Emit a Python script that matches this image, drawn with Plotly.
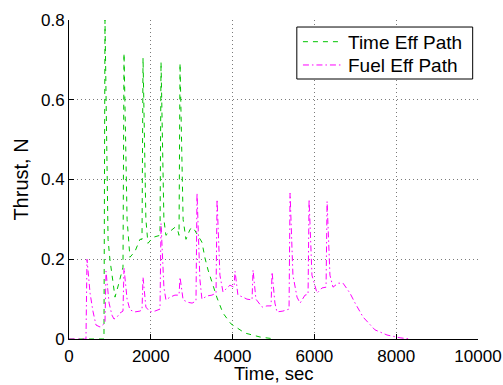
import plotly.graph_objects as go

# Time Eff Path (green dashed)
time_eff_t = [0, 855, 880, 955, 1000, 1125, 1220, 1320, 1345, 1420, 1490, 1615, 1735, 1785,
              1810, 1880, 1930, 2055, 2225, 2250, 2320, 2370, 2470, 2590, 2665, 2690, 2715,
              2790, 2860, 2960, 3030, 3155, 3250, 3325, 3400, 3520, 3620, 3765, 3960, 4300,
              4670, 5040]
time_eff_f = [0, 0, 0.80, 0.25, 0.20, 0.105, 0.14, 0.18, 0.717, 0.30, 0.205, 0.22, 0.25, 0.25,
              0.705, 0.30, 0.24, 0.255, 0.26, 0.695, 0.30, 0.26, 0.27, 0.28, 0.27, 0.26, 0.692,
              0.30, 0.25, 0.275, 0.28, 0.26, 0.243, 0.203, 0.173, 0.135, 0.103, 0.065, 0.038, 0.015,
              0.005, 0.0]

# Fuel Eff Path (magenta dash-dot)
fuel_eff_t = [0, 415, 440, 515, 585, 660, 760, 830, 880, 905, 980, 1050, 1100, 1175, 1245, 1320,
              1345, 1420, 1490, 1615, 1735, 1785, 1810, 1880, 1980, 2100, 2225, 2250, 2320, 2370,
              2470, 2590, 2690, 2715, 2790, 2910, 3010, 3105, 3130, 3200, 3250, 3375, 3495, 3595,
              3620, 3690, 3765, 3935, 4035, 4060, 4130, 4255, 4350, 4475, 4500, 4570, 4720, 4840,
              4940, 4965, 5035, 5085, 5230, 5380, 5405, 5475, 5575, 5650, 5770, 5845, 5870, 5940,
              6065, 6185, 6285, 6310, 6380, 6455, 6580, 6700, 6870, 6995, 7190, 7480, 7775, 8095,
              8340]
fuel_eff_f = [0, 0, 0.20, 0.115, 0.07, 0.035, 0.03, 0.035, 0.04, 0.17, 0.09, 0.06, 0.05, 0.055,
              0.065, 0.07, 0.178, 0.10, 0.073, 0.068, 0.07, 0.073, 0.155, 0.08, 0.068, 0.07, 0.075,
              0.29, 0.13, 0.098, 0.105, 0.11, 0.11, 0.155, 0.098, 0.092, 0.09, 0.095, 0.366, 0.15,
              0.10, 0.108, 0.11, 0.115, 0.35, 0.16, 0.118, 0.135, 0.13, 0.17, 0.11, 0.105, 0.10,
              0.098, 0.173, 0.10, 0.08, 0.083, 0.083, 0.168, 0.09, 0.068, 0.07, 0.075, 0.366, 0.16,
              0.105, 0.09, 0.11, 0.112, 0.35, 0.16, 0.115, 0.128, 0.13, 0.345, 0.16, 0.13, 0.14,
              0.14, 0.115, 0.09, 0.055, 0.023, 0.01, 0.003, 0.0]

series_names = ["Time Eff Path", "Fuel Eff Path"]
x_title = "Time, sec"
y_title = "Thrust, N"
x_ticks = [0, 2000, 4000, 6000, 8000, 10000]
y_ticks = [0, 0.2, 0.4, 0.6, 0.8]
y_tick_labels = ["0", "0.2", "0.4", "0.6", "0.8"]

FONT = "Liberation Sans, Arial, Helvetica, sans-serif"
GREEN = "#00c400"
MAGENTA = "#ff00ff"
GREEN_DASH = "5px,5px"
MAG_DASH = "6px,3px,1.5px,3px"

fig = go.Figure()
fig.add_trace(go.Scatter(x=time_eff_t, y=time_eff_f, mode="lines", name=series_names[0],
                         line=dict(color=GREEN, width=1, dash=GREEN_DASH), showlegend=False))
fig.add_trace(go.Scatter(x=fuel_eff_t, y=fuel_eff_f, mode="lines", name=series_names[1],
                         line=dict(color=MAGENTA, width=1, dash=MAG_DASH), showlegend=False))

axis_common = dict(showline=True, linecolor="black", linewidth=1, ticks="inside", ticklen=5,
                   tickcolor="black", showgrid=True, gridcolor="#7a7a7a", griddash="1px,3px",
                   gridwidth=1, zeroline=False, mirror=False, automargin=False,
                   tickfont=dict(family=FONT, size=17, color="black"))

# manual legend (MATLAB style box in upper right)
shapes = [
    dict(type="rect", xref="paper", yref="paper", x0=0.557, x1=0.987, y0=0.815, y1=0.978,
         line=dict(color="black", width=1), fillcolor="white", layer="above"),
    dict(type="line", xref="paper", yref="paper", x0=0.572, x1=0.668, y0=0.932, y1=0.932,
         line=dict(color=GREEN, width=1, dash=GREEN_DASH), layer="above"),
    dict(type="line", xref="paper", yref="paper", x0=0.572, x1=0.668, y0=0.859, y1=0.859,
         line=dict(color=MAGENTA, width=1, dash=MAG_DASH), layer="above"),
]
annotations = [
    dict(xref="paper", yref="paper", x=0.677, y=0.931, xanchor="left", yanchor="middle",
         text=series_names[0], showarrow=False, font=dict(family=FONT, size=19, color="black")),
    dict(xref="paper", yref="paper", x=0.677, y=0.857, xanchor="left", yanchor="middle",
         text=series_names[1], showarrow=False, font=dict(family=FONT, size=19, color="black")),
    # x-axis title
    dict(xref="paper", yref="paper", x=0.5, y=-0.1442, xanchor="center", yanchor="bottom",
         text=x_title, showarrow=False, borderpad=0,
         font=dict(family=FONT, size=18.5, color="black")),
]

fig.update_layout(
    width=503, height=385,
    margin=dict(l=69, r=25, t=20, b=46),
    paper_bgcolor="white", plot_bgcolor="white",
    font=dict(family=FONT, color="black"),
    xaxis=dict(range=[0, 10000], tickvals=x_ticks, ticktext=[str(v) for v in x_ticks],
               ticklabelstandoff=2, **axis_common),
    yaxis=dict(range=[0, 0.8], tickvals=y_ticks, ticktext=y_tick_labels,
               title=dict(text=y_title, font=dict(family=FONT, size=20), standoff=6),
               **axis_common),
    shapes=shapes,
    annotations=annotations,
    showlegend=False,
)

fig.write_html("out.html")
